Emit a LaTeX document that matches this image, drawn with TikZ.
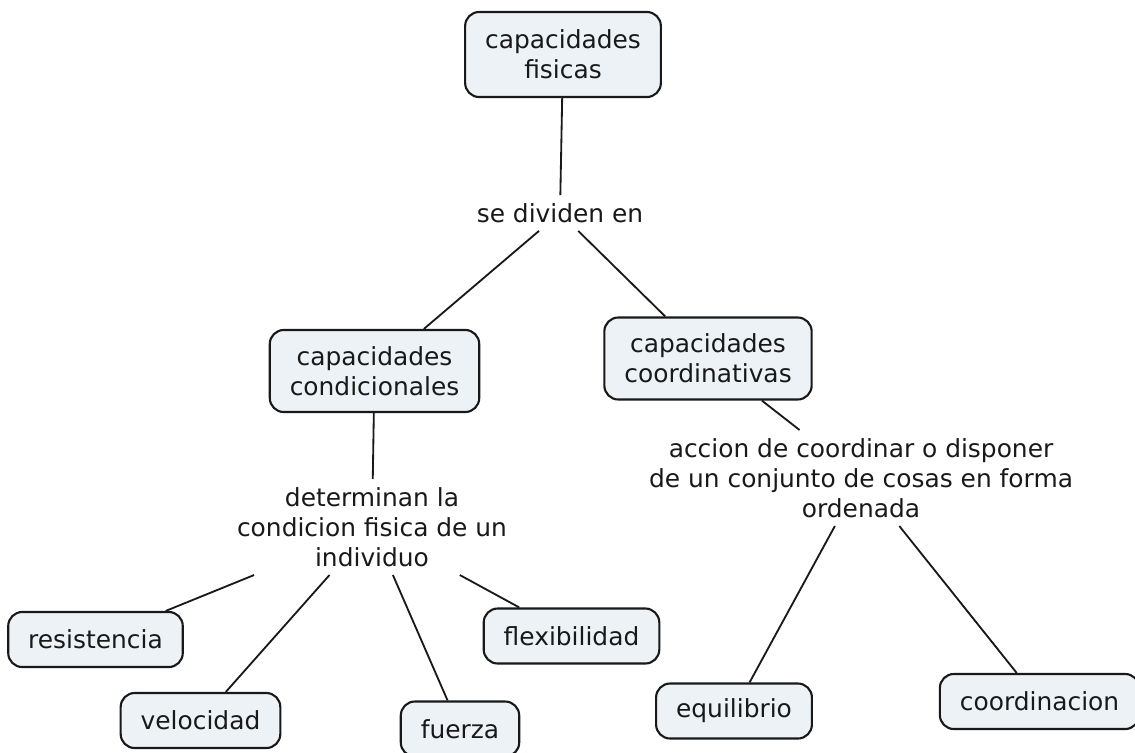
\documentclass[tikz,border=0pt]{standalone}
\usepackage{fontspec}
\setmainfont{DejaVu Sans}
\usepackage{tikz}
\usetikzlibrary{positioning}
\usepackage{xcolor}
\definecolor{cmfill}{RGB}{236,242,245}
\definecolor{cmline}{RGB}{25,25,25}
\tikzstyle{concept} = [rectangle, rounded corners=0.35cm, draw=cmline, fill=cmfill, line width=1.5pt, text=cmline, inner xsep=0.5cm, minimum height=1.375cm, align=center, font=\fontsize{17.7}{21.4}\selectfont]
\tikzstyle{linkphrase} = [rectangle, inner sep=0.2cm, text=cmline, align=center, font=\fontsize{17.7}{21.4}\selectfont]
\tikzstyle{link} = [line width=1.3pt, color=cmline]

\begin{document}
\begin{tikzpicture}[x=0.025cm, y=-0.025cm]
    \useasboundingbox (0,0) rectangle (1135,752);

    % Top concept
    \node[concept, minimum height=2.125cm] (fisicas) at (563,54.5) {capacidades\\fisicas};
    \node[linkphrase] (dividen) at (560,213) {se dividen en};

    % Second level
    \node[concept, minimum height=2.05cm] (condic) at (374.5,371) {capacidades\\condicionales};
    \node[concept, minimum height=2.05cm] (coord) at (708,358.5) {capacidades\\coordinativas};

    % Linking phrases
    \node[linkphrase] (determinan) at (372,527) {determinan la\\condicion fisica de un\\individuo};
    \node[linkphrase] (accion) at (861,478) {accion de coordinar o disponer\\de un conjunto de cosas en forma\\ordenada};

    % Leaves
    \node[concept] (resist) at (95.5,639.5) {resistencia};
    \node[concept] (veloc) at (200.5,720.5) {velocidad};
    \node[concept] (fuerza) at (460,729) {fuerza};
    \node[concept] (flexib) at (571.5,636) {flexibilidad};
    \node[concept] (equil) at (734,711) {equilibrio};
    \node[concept] (coordin) at (1039.5,701.5) {coordinacion};

    % Links
    \draw[link] (fisicas) -- (dividen);
    \draw[link] (dividen) -- (condic);
    \draw[link] (dividen) -- (coord);
    \draw[link] (condic) -- (determinan);
    \draw[link] (coord) -- (accion);
    \draw[link] (determinan) -- (resist);
    \draw[link] (determinan) -- (veloc);
    \draw[link] (determinan) -- (fuerza);
    \draw[link] (determinan) -- (flexib);
    \draw[link] (accion) -- (equil);
    \draw[link] (accion) -- (coordin);
\end{tikzpicture}
\end{document}
